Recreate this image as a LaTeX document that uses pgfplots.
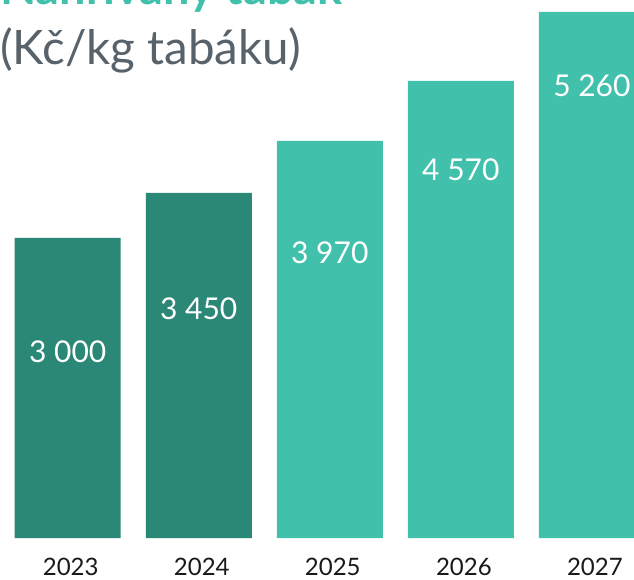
\documentclass[border=0pt]{standalone}
\usepackage{pgfplots}
\pgfplotsset{compat=1.18}
\usepackage{fontspec}
\setmainfont{Lato}
\definecolor{darkteal}{HTML}{2B8776}
\definecolor{lightteal}{HTML}{41C1AC}
\definecolor{subgrey}{HTML}{58626A}
\begin{document}
\begin{tikzpicture}
\useasboundingbox (0,0) rectangle (634pt,579pt);
\clip (0,0) rectangle (634pt,579pt);
\node[anchor=base west, inner sep=0pt, text=lightteal, font=\fontsize{47}{47}\bfseries\selectfont] at (0pt,574pt) {Nahřívaný tabák};
\node[anchor=base west, inner sep=0pt, text=subgrey, font=\fontsize{47.5}{47.5}\selectfont] at (0pt,514pt) {(Kč/kg tabáku)};
\begin{axis}[
  at={(-10.93pt,41pt)}, anchor=south west,
  x=131.05pt, y=0.1pt,
  xmin=-0.6, xmax=4.6, ymin=0, ymax=5800,
  axis line style={draw=none},
  ytick=\empty,
  xtick={0,1,2,3,4},
  xticklabels={2023,2024,2025,2026,2027},
  major tick length=0pt,
  xticklabel style={anchor=base, inner sep=0pt, yshift=-37pt, xshift=3pt, font=\fontsize{24}{24}\selectfont, text=black!90},
  ybar, bar width=106pt,
  clip=false,
]
\addplot[ybar, bar shift=0pt, fill=darkteal, draw=none] coordinates {(0,3000) (1,3450)};
\addplot[ybar, bar shift=0pt, fill=lightteal, draw=none] coordinates {(2,3970) (3,4570) (4,5260)};
\begin{scope}[every node/.style={text=white, font=\fontsize{30}{30}\selectfont, anchor=center}]
\node at (axis cs:0,1860) {3 000};
\node at (axis cs:1,2290) {3 450};
\node at (axis cs:2,2850) {3 970};
\node at (axis cs:3,3680) {4 570};
\node at (axis cs:4,4520) {5 260};
\end{scope}
\end{axis}
\end{tikzpicture}
\end{document}
